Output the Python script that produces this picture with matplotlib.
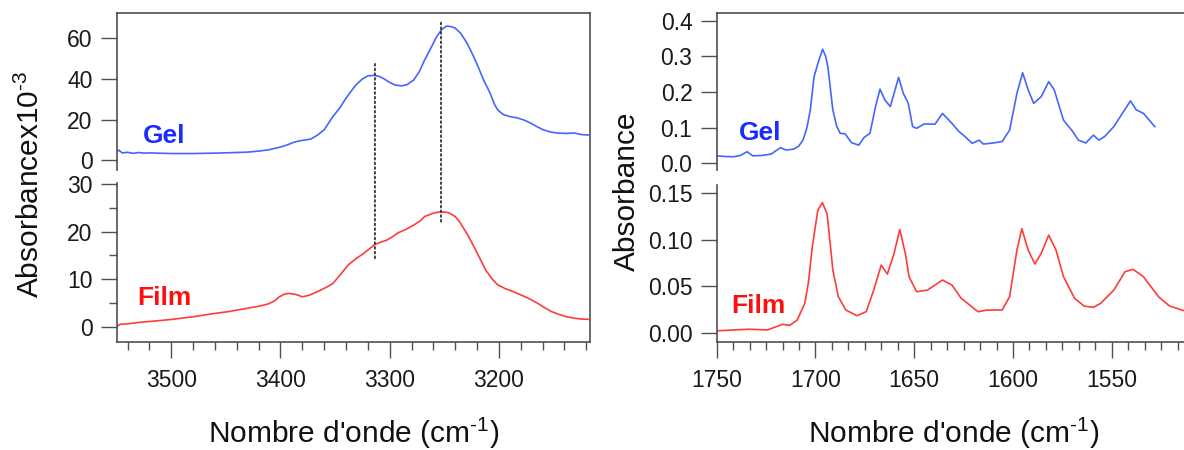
import matplotlib
matplotlib.use("Agg")
import matplotlib.pyplot as plt
from matplotlib.ticker import MultipleLocator, FormatStrFormatter, NullLocator
from matplotlib.patches import ConnectionPatch

plt.rcParams['font.family'] = ['Liberation Sans', 'DejaVu Sans']
plt.rcParams['mathtext.fontset'] = 'custom'
plt.rcParams['mathtext.rm'] = 'Liberation Sans'
plt.rcParams['mathtext.default'] = 'regular'

# ---------------- data ----------------
# Left panel (N-H region), absorbance x 1e-3
gel_oh_x = [3550, 3548, 3545, 3540, 3535, 3530, 3525, 3520, 3500, 3480, 3460, 3447, 3430, 3420,
            3411, 3400, 3394, 3388, 3383, 3377, 3372, 3366, 3360, 3352, 3346, 3341, 3336, 3331,
            3325, 3320, 3314, 3310, 3306, 3300, 3295, 3289, 3284, 3278, 3273, 3268, 3262, 3257,
            3252, 3248, 3244, 3240, 3235, 3229, 3224, 3219, 3214, 3208, 3204, 3201, 3196, 3190,
            3183, 3177, 3170, 3165, 3159, 3152, 3145, 3138, 3131, 3124, 3117]
gel_oh_y = [4.0, 5.0, 3.6, 3.9, 3.4, 3.8, 3.5, 3.6, 3.3, 3.3, 3.5, 3.7, 4.0, 4.5,
            5.1, 6.5, 7.5, 8.8, 9.5, 10.0, 10.5, 12.4, 15.0, 21.5, 25.5, 29.7, 33.5, 37.0,
            40.0, 41.5, 41.8, 41.3, 40.3, 38.3, 37.0, 36.6, 37.2, 39.5, 43.5, 49.3, 55.5, 60.8,
            64.5, 66.0, 65.8, 65.0, 62.5, 57.5, 52.0, 46.0, 39.5, 33.0, 27.5, 24.7, 22.5, 21.5,
            20.8, 19.8, 18.0, 16.5, 14.9, 13.8, 13.3, 13.2, 13.4, 12.6, 12.4]

film_oh_x = [3550, 3547, 3540, 3530, 3520, 3510, 3499, 3480, 3460, 3447, 3430, 3420, 3411, 3405,
             3401, 3396, 3392, 3386, 3380, 3374, 3366, 3358, 3352, 3345, 3338, 3331, 3324, 3318,
             3313, 3308, 3303, 3297, 3292, 3285, 3278, 3272, 3268, 3260, 3254, 3248, 3245, 3240,
             3236, 3229, 3222, 3217, 3212, 3206, 3201, 3194, 3187, 3180, 3173, 3165, 3158, 3152,
             3145, 3138, 3131, 3124, 3117]
film_oh_y = [0.0, 0.5, 0.6, 0.9, 1.1, 1.3, 1.55, 2.1, 2.8, 3.2, 3.9, 4.3, 4.8, 5.5,
             6.3, 6.9, 7.0, 6.8, 6.3, 6.6, 7.4, 8.3, 9.1, 11.0, 13.0, 14.3, 15.4, 16.5,
             17.4, 17.8, 18.2, 19.0, 19.8, 20.5, 21.4, 22.3, 23.2, 23.9, 24.2, 24.1, 23.9, 23.2,
             22.1, 19.5, 16.5, 14.2, 11.9, 10.0, 8.8, 8.0, 7.4, 6.7, 6.0, 5.0, 4.0, 3.2,
             2.6, 2.1, 1.8, 1.6, 1.55]

# Dotted guide lines: position, top (Gel axis), bottom (Film axis)
guide_x = [3313.5, 3253]
guide_top = [47.4, 67.7]
guide_bot = [14.25, 21.9]

# Right panel (amide region)
gel_am_x = [1750, 1745.5, 1741.3, 1738, 1734.6, 1731.8, 1727, 1722.4, 1717.7, 1714.8, 1711, 1708.5,
            1706.3, 1704.3, 1702.6, 1700.7, 1698.5, 1696.4, 1694.8, 1693.7, 1691.2, 1689.3, 1687.5,
            1685, 1681.8, 1678.1, 1675.3, 1672.4, 1669.6, 1667.3, 1664.9, 1662.1, 1660.2, 1657.9,
            1655.5, 1653, 1650.8, 1648.8, 1645.1, 1639.4, 1635.7, 1630.9, 1627.5, 1624.3, 1620.6,
            1617.2, 1615, 1610, 1605.5, 1601.7, 1598, 1595.1, 1592.3, 1589.5, 1585.7, 1581.9,
            1579.1, 1574.4, 1569.7, 1566.9, 1563.1, 1559.3, 1556.5, 1553.6, 1548.9, 1545.2,
            1540.5, 1537.6, 1533.9, 1528.2]
gel_am_y = [0.021, 0.019, 0.0185, 0.022, 0.0325, 0.021, 0.022, 0.026, 0.044, 0.037, 0.040, 0.048,
            0.065, 0.100, 0.150, 0.243, 0.285, 0.320, 0.300, 0.270, 0.150, 0.105, 0.084,
            0.083, 0.058, 0.051, 0.073, 0.084, 0.159, 0.208, 0.178, 0.159, 0.196, 0.241,
            0.196, 0.168, 0.103, 0.098, 0.110, 0.110, 0.140, 0.112, 0.090, 0.075, 0.056,
            0.065, 0.054, 0.057, 0.061, 0.093, 0.196, 0.254, 0.206, 0.168, 0.187, 0.229,
            0.206, 0.121, 0.089, 0.065, 0.057, 0.079, 0.065, 0.075, 0.103, 0.135,
            0.175, 0.150, 0.140, 0.103]

film_am_x = [1750, 1741, 1733.7, 1724.2, 1716.7, 1712.9, 1709.2, 1705.4, 1703.5, 1701.6, 1698.8,
             1696.5, 1694.1, 1692.5, 1691.2, 1688.4, 1684.6, 1679, 1674.3, 1670.5, 1666.7, 1663.6,
             1660.2, 1657.3, 1654.5, 1652.6, 1648.8, 1643.2, 1635.7, 1630.9, 1626.2, 1617.7,
             1613, 1605.5, 1601.7, 1598, 1595.5, 1592.3, 1588.9, 1585.7, 1581.9, 1578.2, 1574.4,
             1568.8, 1564, 1559.3, 1555.6, 1548.9, 1543.3, 1539.2, 1533.9, 1526.3, 1520.7, 1513.5]
film_am_y = [0.002, 0.003, 0.0037, 0.003, 0.009, 0.008, 0.0137, 0.0316, 0.055, 0.0925, 0.132,
             0.140, 0.128, 0.095, 0.0674, 0.0387, 0.0244, 0.0183, 0.0226, 0.0459, 0.0728, 0.0631,
             0.0854, 0.111, 0.0854, 0.0602, 0.0441, 0.0459, 0.0567, 0.0513, 0.037, 0.0226,
             0.0244, 0.0244, 0.0387, 0.0889, 0.112, 0.0889, 0.0739, 0.0854, 0.105, 0.0889, 0.0602,
             0.037, 0.0287, 0.0273, 0.0316, 0.0459, 0.0656, 0.0682, 0.0602, 0.0387, 0.0287, 0.0237]

labels = ["Gel", "Film"]
xlabel = r"Nombre d'onde (cm$^{\text{-1}}$)"
ylabel_left = r"Absorbancex10$^{\text{-3}}$"
ylabel_right = "Absorbance"

# ---------------- styles ----------------
W, H = 1184, 450
C_GEL_LINE = "#4466ff"
C_FILM_LINE = "#ff3b3b"
C_GEL_TXT = "#1a2cff"
C_FILM_TXT = "#ff1010"
SPINE = "#505050"
TICKFS = 16.5
LABELFS = 21.5
TAGFS = 19


def rect(l, t, r, b):
    return [l / W, 1 - b / H, (r - l) / W, (b - t) / H]


fig = plt.figure(figsize=(W / 100, H / 100), dpi=100)


def style_axis(ax, left=True, bottom=False, top=False, right=False):
    for side, vis in (("left", left), ("bottom", bottom), ("top", top), ("right", right)):
        ax.spines[side].set_visible(vis)
        ax.spines[side].set_color(SPINE)
        ax.spines[side].set_linewidth(1.2)
    ax.patch.set_alpha(0)
    ax.tick_params(which="major", direction="out", length=11.5, width=1.0, color=SPINE,
                   labelsize=TICKFS, labelcolor="#1a1a1a", pad=6)
    ax.tick_params(which="minor", direction="out", length=5.8, width=1.0, color=SPINE)
    ax.tick_params(axis="x", which="major", pad=8)
    if not bottom:
        ax.tick_params(axis="x", which="both", bottom=False, labelbottom=False)


# ---------- left panel ----------
L0, L1 = 116.7, 589.5
frame_l = fig.add_axes(rect(L0, 13.3, L1, 341.7))
frame_l.set_xticks([]); frame_l.set_yticks([])
for s in ("left", "bottom"):
    frame_l.spines[s].set_visible(False)
for s in ("top", "right"):
    frame_l.spines[s].set_color(SPINE); frame_l.spines[s].set_linewidth(1.2)
frame_l.patch.set_alpha(0)

ax_lt = fig.add_axes(rect(L0, 13.3, L1, 170))
ax_lb = fig.add_axes(rect(L0, 183.3, L1, 341.7))
style_axis(ax_lt)
style_axis(ax_lb, bottom=True)

ax_lt.plot(gel_oh_x, gel_oh_y, color=C_GEL_LINE, lw=1.2)
ax_lb.plot(film_oh_x, film_oh_y, color=C_FILM_LINE, lw=1.2)
for ax in (ax_lt, ax_lb):
    ax.set_xlim(3550, 3117)
ax_lt.set_ylim(-4.8, 72.3)
ax_lb.set_ylim(-3.16, 30.2)
ax_lt.yaxis.set_major_locator(MultipleLocator(20))
ax_lt.yaxis.set_minor_locator(NullLocator())
ax_lb.yaxis.set_major_locator(MultipleLocator(10))
ax_lb.yaxis.set_minor_locator(MultipleLocator(5))
ax_lb.xaxis.set_major_locator(MultipleLocator(100))
ax_lb.xaxis.set_minor_locator(MultipleLocator(20))

ax_lt.text(3526, 12, labels[0], color=C_GEL_TXT, fontsize=TAGFS, fontweight="bold",
           ha="left", va="center")
ax_lb.text(3531, 6.0, labels[1], color=C_FILM_TXT, fontsize=TAGFS, fontweight="bold",
           ha="left", va="center")

for gx, gt, gb in zip(guide_x, guide_top, guide_bot):
    con = ConnectionPatch(xyA=(gx, gt), coordsA="data", axesA=ax_lt,
                          xyB=(gx, gb), coordsB="data", axesB=ax_lb,
                          color="#333333", lw=1.3, linestyle=(0, (1, 1.6)))
    fig.add_artist(con)

# ---------- right panel ----------
R0, R1 = 716.7, 1184
ax_rt = fig.add_axes(rect(R0, 13.3, R1, 170))
ax_rb = fig.add_axes(rect(R0, 185, R1, 341.7))
style_axis(ax_rt, top=True)
style_axis(ax_rb, bottom=True)

ax_rt.plot(gel_am_x, gel_am_y, color=C_GEL_LINE, lw=1.2)
ax_rb.plot(film_am_x, film_am_y, color=C_FILM_LINE, lw=1.2)
for ax in (ax_rt, ax_rb):
    ax.set_xlim(1750, 1513.4)
ax_rt.set_ylim(-0.0188, 0.4208)
ax_rb.set_ylim(-0.0097, 0.159)
ax_rt.yaxis.set_major_locator(MultipleLocator(0.1))
ax_rt.yaxis.set_major_formatter(FormatStrFormatter("%.1f"))
ax_rt.yaxis.set_minor_locator(NullLocator())
ax_rb.yaxis.set_major_locator(MultipleLocator(0.05))
ax_rb.yaxis.set_major_formatter(FormatStrFormatter("%.2f"))
ax_rb.yaxis.set_minor_locator(NullLocator())
ax_rb.xaxis.set_major_locator(MultipleLocator(50))
ax_rb.xaxis.set_minor_locator(MultipleLocator(50 / 6))

ax_rt.text(1739, 0.086, labels[0], color=C_GEL_TXT, fontsize=TAGFS, fontweight="bold",
           ha="left", va="center")
ax_rb.text(1742.4, 0.029, labels[1], color=C_FILM_TXT, fontsize=TAGFS, fontweight="bold",
           ha="left", va="center")

# ---------- axis titles ----------
fig.text(354 / W, 1 - 443 / H, xlabel, fontsize=LABELFS, ha="center", va="baseline", color="#111111")
fig.text(954 / W, 1 - 443 / H, xlabel, fontsize=LABELFS, ha="center", va="baseline", color="#111111")
fig.text(30 / W, 1 - 184 / H, ylabel_left, fontsize=LABELFS, rotation=90, ha="center", va="center",
         color="#111111")
fig.text(627 / W, 1 - 191 / H, ylabel_right, fontsize=LABELFS, rotation=90, ha="center", va="center",
         color="#111111")

fig.savefig("out.png", dpi=100)
